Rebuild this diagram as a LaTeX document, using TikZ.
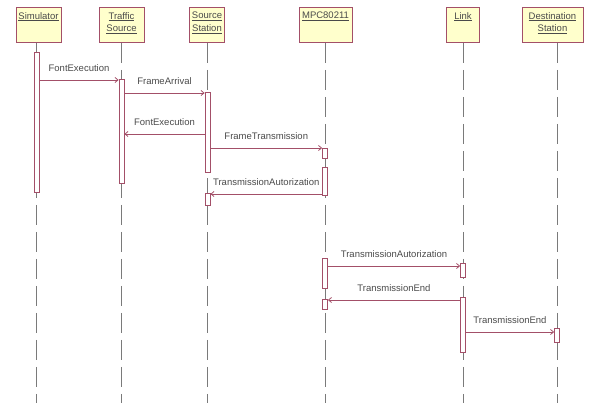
\documentclass[tikz,border=0pt]{standalone}
\usepackage{fontspec}
\setmainfont{Liberation Sans}
\usetikzlibrary{arrows.meta}
\definecolor{umlline}{HTML}{A34F68}
\definecolor{umlfill}{HTML}{FFFFCC}
\definecolor{umltext}{HTML}{4A4A4A}
\definecolor{lifegray}{HTML}{7A7A7A}
\begin{document}
\begin{tikzpicture}[x=1pt,y=-1pt,
  objbox/.style={draw=umlline, fill=umlfill, line width=0.9pt, minimum height=35pt,
                 inner sep=0pt, anchor=north},
  objname/.style={anchor=north, inner sep=0pt, align=center, text=umltext,
                  font=\fontsize{9.5}{12.5}\selectfont},
  lifeline/.style={draw=lifegray, line width=0.9pt, dash pattern=on 20pt off 7pt},
  actbar/.style={draw=umlline, fill=white, line width=0.8pt, minimum width=5pt,
                 inner sep=0pt, anchor=north},
  msg/.style={draw=umlline, line width=0.8pt, -{Straight Barb[length=3pt,width=5pt]}},
  msglabel/.style={midway, above=8pt, inner sep=0pt, text=umltext,
                   font=\fontsize{9.5}{11}\selectfont}
]
\useasboundingbox (0,0) rectangle (593,403);

% object heads
\node[objbox, minimum width=45pt] (sim)  at (38.5,7) {};
\node[objbox, minimum width=45pt] (traf) at (121.5,7) {};
\node[objbox, minimum width=35pt] (src)  at (207,7) {};
\node[objbox, minimum width=53pt] (mpc)  at (325.5,7) {};
\node[objbox, minimum width=33pt] (link) at (463,7) {};
\node[objbox, minimum width=61pt] (dst)  at (552.5,7) {};

\node[objname] (simT)  at ([yshift=-5pt]sim.north)  {\underline{Simulator}};
\node[objname] (trafT) at ([yshift=-5pt]traf.north) {\underline{Traffic}\\\underline{Source}};
\node[objname] (srcT)  at ([yshift=-5pt]src.north)  {\underline{Source}\\\underline{Station}};
\node[objname] (mpcT)  at ([yshift=-5pt]mpc.north)  {\underline{MPC80211}};
\node[objname] (linkT) at ([yshift=-5pt]link.north) {\underline{Link}};
\node[objname] (dstT)  at ([yshift=-5pt]dst.north)  {\underline{Destination}\\\underline{Station}};

% lifelines
\coordinate (simE)  at (36.5,403);
\coordinate (trafE) at (121.5,403);
\coordinate (srcE)  at (207.5,403);
\coordinate (mpcE)  at (325,403);
\coordinate (linkE) at (463,403);
\coordinate (dstE)  at (557,403);
\draw[lifeline] (simE |- sim.south)   -- (simE);
\draw[lifeline] (trafE |- traf.south) -- (trafE);
\draw[lifeline] (srcE |- src.south)   -- (srcE);
\draw[lifeline] (mpcE |- mpc.south)   -- (mpcE);
\draw[lifeline] (linkE |- link.south) -- (linkE);
\draw[lifeline] (dstE |- dst.south)   -- (dstE);

% activation bars
\node[actbar, minimum height=140pt] (simA)  at (36.5,52) {};
\node[actbar, minimum height=104pt] (trafA) at (121.5,79) {};
\node[actbar, minimum height=80pt]  (srcA)  at (207.5,92) {};
\node[actbar, minimum height=12pt]  (srcB)  at (207.5,193) {};
\node[actbar, minimum height=10pt]  (mpcA)  at (325,148) {};
\node[actbar, minimum height=28pt]  (mpcB)  at (325,167) {};
\node[actbar, minimum height=30pt]  (mpcC)  at (325,258) {};
\node[actbar, minimum height=10pt]  (mpcD)  at (325,299) {};
\node[actbar, minimum height=14pt]  (linkA) at (463,263) {};
\node[actbar, minimum height=55pt]  (linkB) at (463,297) {};
\node[actbar, minimum height=14pt]  (dstA)  at (557,328) {};

% messages
\draw[msg] (simA.east |- 0,80)   -- (trafA.west |- 0,80)
  node[msglabel] {FontExecution};
\draw[msg] (trafA.east |- 0,93)  -- (srcA.west |- 0,93)
  node[msglabel] {FrameArrival};
\draw[msg] (srcA.west |- 0,134)  -- (trafA.east |- 0,134)
  node[msglabel] {FontExecution};
\draw[msg] (srcA.east |- 0,148)  -- (mpcA.west |- 0,148)
  node[msglabel] {FrameTransmission};
\draw[msg] (mpcB.west |- 0,194)  -- (srcB.east |- 0,194)
  node[msglabel] {TransmissionAutorization};
\draw[msg] (mpcC.east |- 0,266)  -- (linkA.west |- 0,266)
  node[msglabel] {TransmissionAutorization};
\draw[msg] (linkB.west |- 0,300) -- (mpcD.east |- 0,300)
  node[msglabel] {TransmissionEnd};
\draw[msg] (linkB.east |- 0,332) -- (dstA.west |- 0,332)
  node[msglabel] {TransmissionEnd};
\end{tikzpicture}
\end{document}
